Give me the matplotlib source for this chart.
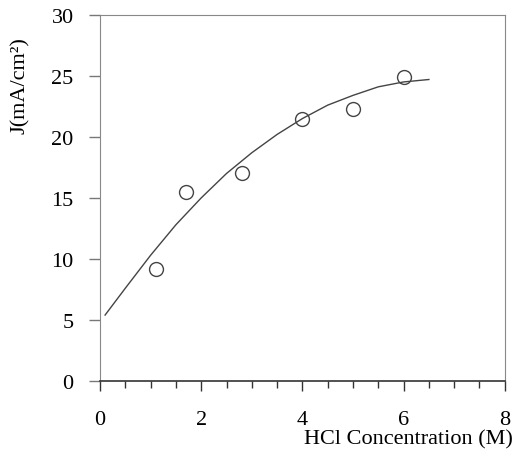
"""Current density vs HCl concentration, scatter with fitted curve."""

import matplotlib

matplotlib.use("Agg")

import matplotlib.pyplot as plt
from matplotlib.ticker import MultipleLocator

# measured points
conc = [1.1, 1.7, 2.8, 4.0, 5.0, 6.0]
current = [9.2, 15.5, 17.0, 21.5, 22.3, 24.9]

# fitted trend line
fit_x = [0.1, 0.5, 1.0, 1.5, 2.0, 2.5, 3.0, 3.5, 4.0, 4.5, 5.0, 5.5, 6.0, 6.5]
fit_y = [5.4, 7.6, 10.3, 12.8, 15.0, 17.0, 18.7, 20.2, 21.5, 22.6, 23.4, 24.1, 24.5, 24.7]

x_ticks = [0, 2, 4, 6, 8]
y_ticks = [0, 5, 10, 15, 20, 25, 30]

plt.rcParams["font.family"] = ["Liberation Serif", "DejaVu Serif"]

fig = plt.figure(figsize=(5.13, 4.52), dpi=100)
ax = fig.add_axes([0.195, 0.155, 0.789, 0.81])

ax.plot(fit_x, fit_y, color="#444444", linewidth=1.0)
ax.plot(conc, current, linestyle="none", marker="o", markersize=10,
        markerfacecolor="none", markeredgecolor="#444444", markeredgewidth=1.0)

ax.set_xlim(0, 8)
ax.set_ylim(0, 30)
ax.set_xticks(x_ticks)
ax.set_yticks(y_ticks)
ax.xaxis.set_minor_locator(MultipleLocator(0.5))
ax.tick_params(axis="x", which="major", length=7, width=1, color="#333333",
               labelsize=16, pad=14)
ax.tick_params(axis="x", which="minor", length=5, width=1, color="#333333")
ax.tick_params(axis="y", which="major", length=8, width=1, color="#777777",
               labelsize=16, pad=11)

for side in ("left", "top", "right"):
    ax.spines[side].set_color("#888888")
ax.spines["bottom"].set_color("#333333")
ax.spines["bottom"].set_linewidth(1.2)

fig.text(0.999, 0.026, "HCl Concentration (M)", ha="right", va="center", fontsize=16)
fig.text(0.04, 0.81, "J(mA/cm²)", rotation=90, ha="center", va="center",
         fontsize=16)

fig.savefig("out.png", dpi=100)
